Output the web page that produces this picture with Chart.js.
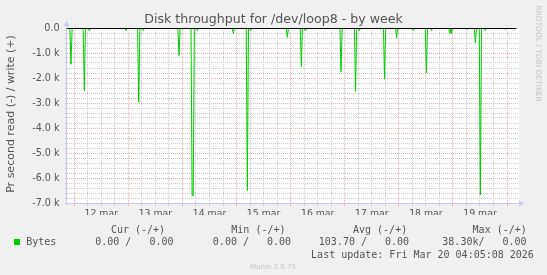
<!DOCTYPE html>
<html>
<head>
<meta charset="utf-8">
<title>Disk throughput for /dev/loop8 - by week</title>
<script src="https://cdn.jsdelivr.net/npm/chart.js@4.4.1/dist/chart.umd.min.js"></script>
<style>
  html, body { margin: 0; padding: 0; background: #f0f0f0; }
  #grafico { display: block; }
</style>
</head>
<body>
<canvas id="grafico" width="547" height="275"></canvas>
<script>
// horas contadas a partir de 12 mar 00:00
const inicioHoras = -3.2;
const fimDados = 196.1;   // ultima atualizacao (20 mar 04:05)
const fimEixo = 197.3;

// picos de leitura (valores negativos = read)
const picosHoras = [-1.42, 4.48, 6.70, 22.98, 28.62, 30.66, 46.49, 52.3, 52.8, 54.61,
  70.59, 76.8, 78.3, 94.54, 100.75, 102.53, 118.37, 124.8, 126.49, 137.67,
  143.0, 144.1, 150.44, 156.21, 158.52, 166.6, 167.3, 174.27, 177.95, 180.17,
  182.34, 191.35];
const picosLeitura = [-1450, -2500, -100, -100, -2970, -100, -1100, -6700, -6700, -100,
  -220, -6500, -100, -370, -1550, -100, -1750, -2530, -100, -2050,
  -380, -50, -100, -1800, -100, -220, -220, -60, -590, -6680,
  -100, -60];

const ticksX = [0, 6, 12, 18, 24, 30, 36, 42, 48, 54, 60, 66, 72, 78, 84, 90, 96, 102,
  108, 114, 120, 126, 132, 138, 144, 150, 156, 162, 168, 174, 180, 186, 192];
const diasRotulos = ['12 mar', '13 mar', '14 mar', '15 mar', '16 mar', '17 mar', '18 mar', '19 mar'];
const ticksY = [0, -200, -400, -600, -800, -1000, -1200, -1400, -1600, -1800, -2000,
  -2200, -2400, -2600, -2800, -3000, -3200, -3400, -3600, -3800, -4000,
  -4200, -4400, -4600, -4800, -5000, -5200, -5400, -5600, -5800, -6000,
  -6200, -6400, -6600, -6800, -7000];

const colunasTitulos = ['Cur (-/+)', 'Min (-/+)', 'Avg (-/+)', 'Max (-/+)'];
const leituraResumo = ['0.00 ', '0.00 ', '103.70 ', '38.30k'];
const escritaResumo = ['0.00', '0.00', '0.00', '0.00'];
const ultimaAtualizacao = 'Last update: Fri Mar 20 04:05:08 2026';

const VERDE = '#00cc00';
const TEXTO = '#555555';
const EIXO = '#c8c8f4';
const GRADE_DIA = '#ebb2b2';
const GRADE_MENOR = '#cdcdcd';

// monta a serie: linha em zero com os picos
function montarSerie() {
  const pts = [{x: inicioHoras, y: 0}];
  for (let i = 0; i < picosHoras.length; i++) {
    const t = picosHoras[i];
    const antes = i > 0 ? picosHoras[i - 1] : -Infinity;
    const depois = i < picosHoras.length - 1 ? picosHoras[i + 1] : Infinity;
    if (t - antes > 0.6) pts.push({x: t - 0.5, y: 0});
    pts.push({x: t, y: picosLeitura[i]});
    if (depois - t > 0.6) pts.push({x: t + 0.5, y: 0});
  }
  pts.push({x: fimDados, y: 0});
  return pts;
}

const decoracao = {
  id: 'decoracao',
  beforeDraw(chart) {
    const {ctx, chartArea: a} = chart;
    ctx.save();
    ctx.fillStyle = '#ffffff';
    ctx.fillRect(a.left, a.top, a.right - a.left, a.bottom - a.top);
    ctx.restore();
  },
  afterDatasetsDraw(chart) {
    const {ctx, scales} = chart;
    const x = scales.x, y = scales.y;
    ctx.save();
    // linha do zero
    const y0 = Math.round(y.getPixelForValue(0)) + 0.5;
    ctx.strokeStyle = '#000000';
    ctx.lineWidth = 1;
    ctx.beginPath();
    ctx.moveTo(x.getPixelForValue(inicioHoras) - 1, y0);
    ctx.lineTo(x.getPixelForValue(fimDados), y0);
    ctx.stroke();
    ctx.restore();
  },
  afterDraw(chart) {
    const {ctx, chartArea: a} = chart;
    ctx.save();
    // eixos com setas
    ctx.strokeStyle = EIXO;
    ctx.fillStyle = EIXO;
    ctx.lineWidth = 1;
    const xl = a.left - 0.5, yb = a.bottom + 0.5;
    ctx.beginPath();
    ctx.moveTo(xl, a.bottom + 2);
    ctx.lineTo(xl, a.top - 3);
    ctx.moveTo(a.left - 2, yb);
    ctx.lineTo(a.right + 1, yb);
    ctx.stroke();
    ctx.beginPath();
    ctx.moveTo(xl - 3, a.top - 2);
    ctx.lineTo(xl + 3, a.top - 2);
    ctx.lineTo(xl, a.top - 7);
    ctx.closePath();
    ctx.fill();
    ctx.beginPath();
    ctx.moveTo(a.right, yb - 3);
    ctx.lineTo(a.right, yb + 3);
    ctx.lineTo(a.right + 5, yb);
    ctx.closePath();
    ctx.fill();

    // titulo
    ctx.fillStyle = TEXTO;
    ctx.font = '12.6px "DejaVu Sans"';
    ctx.textAlign = 'center';
    ctx.textBaseline = 'alphabetic';
    ctx.fillText('Disk throughput for /dev/loop8 - by week', 273.5, 22.5);

    // titulo do eixo y
    ctx.save();
    ctx.translate(14, 114);
    ctx.rotate(-Math.PI / 2);
    ctx.font = '11px "DejaVu Sans"';
    ctx.fillText('Pr second read (-) / write (+)', 0, 0);
    ctx.restore();

    // marca rrdtool
    ctx.save();
    ctx.translate(536, 53.5);
    ctx.rotate(Math.PI / 2);
    ctx.fillStyle = '#c4c4c4';
    ctx.font = '7.5px "DejaVu Sans"';
    ctx.fillText('RRDTOOL / TOBI OETIKER', 0, 0);
    ctx.restore();

    // legenda estilo munin
    ctx.font = '10px "DejaVu Sans Mono"';
    ctx.textAlign = 'left';
    ctx.fillStyle = TEXTO;
    const titulosX = [110.9, 231.3, 353, 472.6];
    const colunasX = [83.2, 200.8, 318.8, 436.3];
    colunasTitulos.forEach((t, i) => ctx.fillText(t, titulosX[i], 232.7));
    ctx.fillStyle = VERDE;
    ctx.fillRect(14, 239, 6, 6);
    ctx.fillStyle = TEXTO;
    ctx.fillText('Bytes', 26.2, 245.2);
    for (let i = 0; i < colunasTitulos.length; i++) {
      const txt = leituraResumo[i].padStart(7) + '/' + escritaResumo[i].padStart(7);
      ctx.fillText(txt, colunasX[i], 245.2);
    }
    ctx.fillText(ultimaAtualizacao, 311.1, 257.7);

    ctx.fillStyle = '#c4c4c4';
    ctx.font = '7px "DejaVu Sans"';
    ctx.textAlign = 'center';
    ctx.fillText('Munin 2.0.75', 273, 268.6);
    ctx.restore();
  }
};

const corGradeX = (c) => (c.tick && c.tick.value % 24 === 0) ? GRADE_DIA : GRADE_MENOR;
const corGradeY = (c) => (c.tick && c.tick.value % 1000 === 0) ? GRADE_DIA : GRADE_MENOR;

const grafico = new Chart(document.getElementById('grafico').getContext('2d'), {
  type: 'line',
  data: {
    datasets: [{
      label: 'Bytes',
      data: montarSerie(),
      borderColor: VERDE,
      backgroundColor: VERDE,
      borderWidth: 1,
      pointRadius: 0,
      tension: 0,
      fill: false
    }]
  },
  options: {
    responsive: false,
    animation: false,
    devicePixelRatio: 1,
    layout: { padding: { top: 28, right: 28, bottom: 60, left: 0 } },
    plugins: { legend: { display: false }, tooltip: { enabled: false }, title: { display: false } },
    scales: {
      x: {
        type: 'linear',
        min: inicioHoras,
        max: fimEixo,
        afterBuildTicks: (s) => { s.ticks = ticksX.map(v => ({value: v})); },
        afterFit: (s) => { s.height = 12; },
        grid: { color: corGradeX, tickColor: corGradeX, lineWidth: 1, tickLength: 3 },
        border: { display: false, dash: [1, 1] },
        ticks: {
          autoSkip: false,
          maxRotation: 0,
          padding: 2,
          color: TEXTO,
          font: { family: 'DejaVu Sans', size: 9.33 },
          callback: (v) => (v % 24 === 12) ? diasRotulos[(v - 12) / 24] : ''
        }
      },
      y: {
        min: -7000,
        max: 0,
        afterBuildTicks: (s) => { s.ticks = ticksY.map(v => ({value: v})); },
        afterFit: (s) => { s.width = 67; },
        grid: { color: corGradeY, tickColor: GRADE_MENOR, lineWidth: 1, tickLength: 2 },
        border: { display: false, dash: [1, 1] },
        ticks: {
          autoSkip: false,
          padding: 5.5,
          color: TEXTO,
          font: { family: 'DejaVu Sans', size: 9.6 },
          callback: (v) => v % 1000 !== 0 ? '' : (v === 0 ? '0.0' : (v / 1000).toFixed(1) + ' k')
        }
      }
    }
  },
  plugins: [decoracao]
});
</script>
</body>
</html>
